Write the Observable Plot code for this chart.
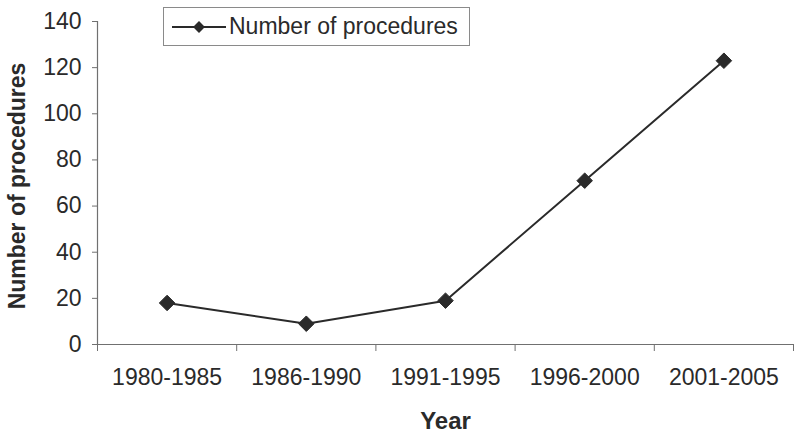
<!DOCTYPE html>
<html>
<head>
<meta charset="utf-8">
<script src="https://cdn.jsdelivr.net/npm/d3@7"></script>
<script src="https://cdn.jsdelivr.net/npm/@observablehq/plot@0.6"></script>
<style>
  body { margin: 0; background: #fff; }
  #wrap { position: relative; width: 800px; height: 438px; font-family: "Liberation Sans", Arial, sans-serif; }
  #legend { position: absolute; left: 163px; top: 7px; width: 305px; height: 37px; border: 1px solid #8a8a8a; background: #fff; display: flex; align-items: center; }
  #legend span { font-size: 23px; color: #2a2a2a; margin-left: 3px; }
</style>
</head>
<body>
<div id="wrap"></div>
<script>
const categories = ["1980-1985", "1986-1990", "1991-1995", "1996-2000", "2001-2005"];
const procedures = [18, 9, 19, 71, 123];
const yTicks = [0, 20, 40, 60, 80, 100, 120, 140];
const seriesName = "Number of procedures";
const xLabel = "Year";
const yLabel = "Number of procedures";

const data = categories.map((c, i) => ({cat: c, i, x: i + 0.5, y: procedures[i]}));
const boundaries = d3.range(categories.length + 1);
const centers = categories.map((c, i) => i + 0.5);

const ink = "#2a2a2a";
const axisColor = "#707070";

const chart = Plot.plot({
  width: 800,
  height: 438,
  marginLeft: 97,
  marginRight: 7,
  marginTop: 21,
  marginBottom: 94,
  style: {fontFamily: "Liberation Sans, Arial, sans-serif", fontSize: "23px", color: ink, background: "#fff"},
  x: {domain: [0, categories.length], axis: null},
  y: {domain: [0, 140], axis: null},
  marks: [
    Plot.axisY({ticks: yTicks, tickSize: 5, tickPadding: 11, stroke: axisColor, fill: ink, fontSize: 23, label: null}),
    Plot.axisX({ticks: boundaries, tickSize: 7, tickFormat: () => "", stroke: axisColor, label: null}),
    Plot.axisX({ticks: centers, tickSize: 0, tickPadding: 24, tickFormat: (d) => categories[Math.round(d - 0.5)], fill: ink, fontSize: 23, label: null}),
    Plot.ruleX([0], {stroke: axisColor, strokeWidth: 1.2}),
    Plot.ruleY([0], {stroke: axisColor, strokeWidth: 1.2}),
    Plot.line(data, {x: "x", y: "y", stroke: ink, strokeWidth: 2}),
    Plot.dot(data, {x: "x", y: "y", symbol: "diamond2", r: 7, fill: ink, stroke: ink, strokeWidth: 1}),
    Plot.text([xLabel], {frameAnchor: "bottom", dy: 77, lineAnchor: "middle", textAnchor: "middle", fontWeight: "bold", fontSize: 24, fill: ink}),
    Plot.text([yLabel], {frameAnchor: "left", dx: -80, dy: 3, rotate: -90, lineAnchor: "middle", textAnchor: "middle", fontWeight: "bold", fontSize: 23, fill: ink})
  ]
});

const wrap = document.getElementById("wrap");
wrap.appendChild(chart);

const legend = document.createElement("div");
legend.id = "legend";
const sym = d3.create("svg").attr("width", 62).attr("height", 20).style("flex", "none");
sym.append("line").attr("x1", 8).attr("x2", 62).attr("y1", 10).attr("y2", 10).attr("stroke", ink).attr("stroke-width", 2);
sym.append("path").attr("d", d3.symbol(d3.symbolDiamond2, 90)()).attr("transform", "translate(35,10)").attr("fill", ink);
legend.appendChild(sym.node());
const span = document.createElement("span");
span.textContent = seriesName;
legend.appendChild(span);
wrap.appendChild(legend);
</script>
</body>
</html>
